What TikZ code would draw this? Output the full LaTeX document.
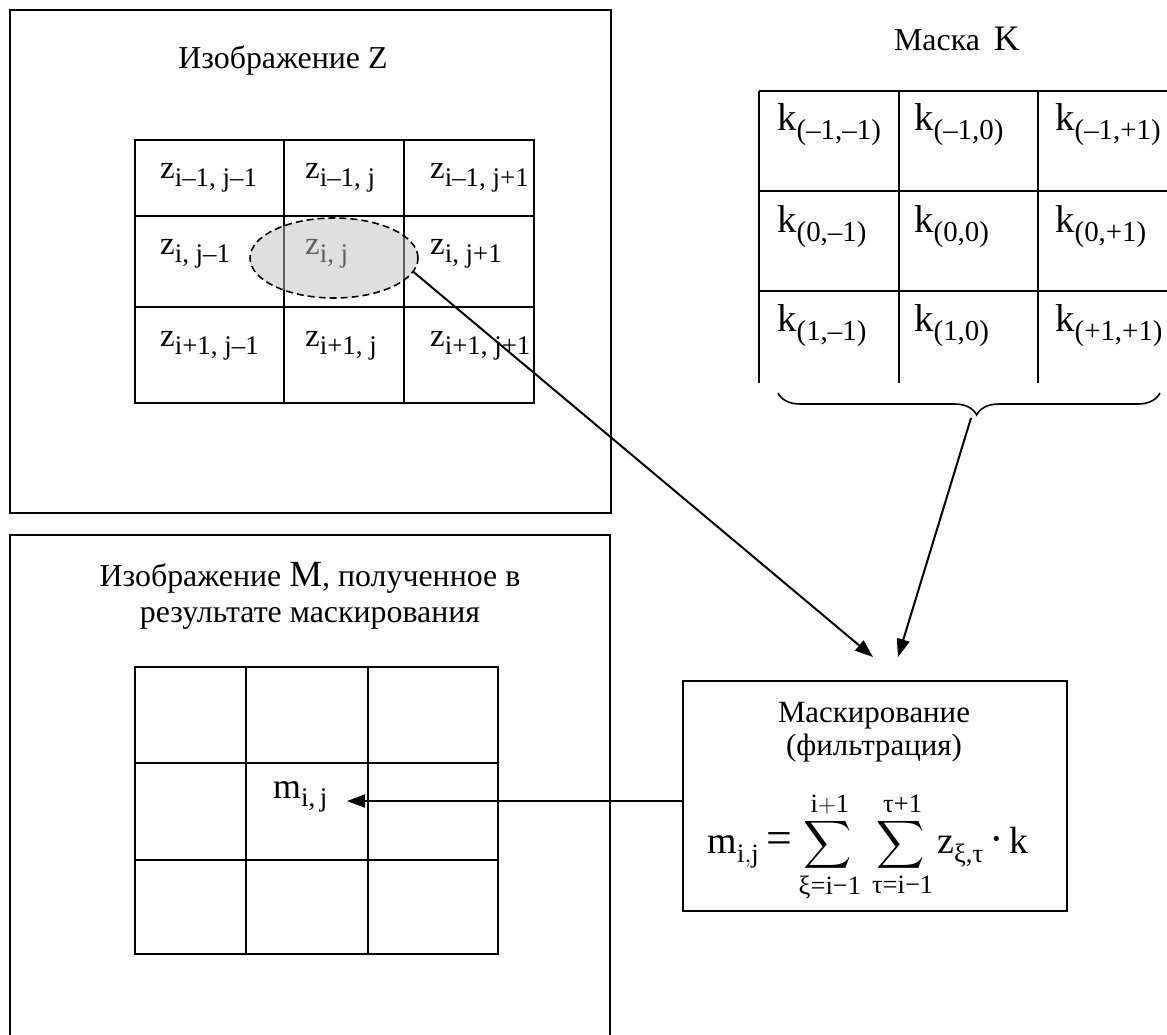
\documentclass[tikz,border=0pt]{standalone}
\usepackage{amsmath}
\usepackage{graphicx}
\usepackage{fontspec}
\setmainfont{Liberation Serif}
\usetikzlibrary{arrows.meta,calc,shapes.geometric,decorations.pathreplacing}
\newcommand{\zsub}[1]{\raisebox{-8bp}{\fontsize{27}{27}\selectfont #1}}
\newcommand{\ksub}[1]{\raisebox{-9bp}{\fontsize{29}{29}\selectfont #1}}
\newcommand{\bigsum}{\mathop{\scalebox{1.35}{$\displaystyle\sum$}}\limits}
\tikzset{
  frameline/.style={draw, line width=2bp},
  gridline/.style={draw, line width=2bp},
  headtext/.style={anchor=base, inner sep=0pt, font=\fontsize{32}{38}\selectfont},
  ztext/.style={anchor=base west, inner sep=0pt, font=\fontsize{33}{38}\selectfont},
  ktext/.style={anchor=base west, inner sep=0pt, font=\fontsize{39}{44}\selectfont},
  hilite/.style={ellipse, draw, dashed, dash pattern=on 7bp off 4bp, line width=1.6bp, fill=black!25, fill opacity=0.5, draw opacity=1, inner sep=0pt},
  bracedeco/.style={decorate, decoration={brace, amplitude=22bp, aspect=0.48}, line width=1.6bp},
  flowarrow/.style={-{Triangle[length=18bp,width=13bp]}, line width=2bp}
}

\begin{document}
\begin{tikzpicture}[x=1bp, y=1bp]
\useasboundingbox (0,0) rectangle (1167,-1035);

% image Z
\node[frameline, anchor=north west, minimum width=601bp, minimum height=503bp, inner sep=0pt] (imgZ) at (9,-9) {};
\node[headtext] (titleZ) at (283,-68) {Изображение Z};
\draw[gridline] (135,-140) rectangle (534,-403);
\draw[gridline] (284,-140) -- (284,-403);
\draw[gridline] (404,-140) -- (404,-403);
\draw[gridline] (135,-216) -- (534,-216);
\draw[gridline] (135,-307) -- (534,-307);
\node[ztext] (z11) at (160,-178) {z\zsub{i–1, j–1}};
\node[ztext] (z12) at (305,-178) {z\zsub{i–1, j}};
\node[ztext] (z13) at (430,-178) {z\zsub{i–1, j+1}};
\node[ztext] (z21) at (160,-254) {z\zsub{i, j–1}};
\node[ztext] (z22) at (305,-254) {z\zsub{i, j}};
\node[ztext] (z23) at (430,-254) {z\zsub{i, j+1}};
\node[ztext] (z31) at (160,-346) {z\zsub{i+1, j–1}};
\node[ztext] (z32) at (305,-346) {z\zsub{i+1, j}};
\node[ztext] (z33) at (430,-346) {z\zsub{i+1, j+1}};
\node[hilite, minimum width=168bp, minimum height=80bp] (zc) at (334,-258) {};

% mask K
\node[headtext] (titleK) at (957,-50) {Маска\hspace{14bp}{\fontsize{36}{36}\selectfont K}};
\draw[gridline] (759,-91) -- (1167,-91);
\draw[gridline] (759,-191) -- (1167,-191);
\draw[gridline] (759,-291) -- (1167,-291);
\draw[gridline] (759,-91) -- (759,-383);
\draw[gridline] (899,-91) -- (899,-383);
\draw[gridline] (1038,-91) -- (1038,-383);
\node[ktext] (k11) at (777,-130) {k\ksub{(–1,–1)}};
\node[ktext] (k12) at (914,-130) {k\ksub{(–1,0)}};
\node[ktext] (k13) at (1055,-130) {k\ksub{(–1,+1)}};
\node[ktext] (k21) at (777,-232) {k\ksub{(0,–1)}};
\node[ktext] (k22) at (914,-232) {k\ksub{(0,0)}};
\node[ktext] (k23) at (1055,-232) {k\ksub{(0,+1)}};
\node[ktext] (k31) at (777,-331) {k\ksub{(1,–1)}};
\node[ktext] (k32) at (914,-331) {k\ksub{(1,0)}};
\node[ktext] (k33) at (1055,-331) {k\ksub{(+1,+1)}};
\draw[bracedeco] (1160,-393) -- (778,-393);
\coordinate (bracetip) at (971,-418);

% image M
\draw[frameline] (10,-1045) -- (10,-535) -- (610,-535) -- (610,-1045);
\node[headtext] (titleM) at (310,-586) {Изображение {\fontsize{37}{37}\selectfont M}, полученное в};
\node[headtext] (titleM2) at (310,-622) {результате маскирования};
\draw[gridline] (135,-667) rectangle (498,-954);
\draw[gridline] (246,-667) -- (246,-954);
\draw[gridline] (368,-667) -- (368,-954);
\draw[gridline] (135,-763) -- (498,-763);
\draw[gridline] (135,-860) -- (498,-860);
\node[anchor=base west, inner sep=0pt, font=\fontsize{36}{40}\selectfont] (mij) at (273,-798) {m\zsub{\fontsize{27}{27}\selectfont i,\,j}};
\coordinate (mijtip) at (347,-801);

% masking
\node[frameline, anchor=north, minimum width=384bp, minimum height=230bp, inner sep=0pt] (mask) at (875,-680) {};
\node[headtext, font=\fontsize{31}{36}\selectfont] (maskname) at (874,-722) {Маскирование};
\node[headtext, font=\fontsize{31}{36}\selectfont] (masknote) at (874,-755) {(фильтрация)};
\node[anchor=base, inner sep=0pt, font=\fontsize{38}{42}\selectfont] (maskformula) at (868,-853)
  {$\displaystyle \mathrm{m}_{\mathrm{i,j}} \mathrel{\text{\fontsize{46}{46}\selectfont =}} \bigsum_{\text{ξ=i−1}}^{\mathrm{i+1}}\; \bigsum_{\text{τ=i−1}}^{\text{τ+1}}\mathrm{z}_{\text{ξ,τ}}\mathbin{\text{\fontsize{44}{44}\selectfont ·}}\mathrm{k}$};
\coordinate (zin) at (873,-657);
\coordinate (kin) at (898,-657);

\draw[flowarrow] (zc.-10) -- (zin);
\draw[flowarrow] (bracetip) -- (kin);
\draw[flowarrow] (mask.west |- mijtip) -- (mijtip);
\end{tikzpicture}
\end{document}
